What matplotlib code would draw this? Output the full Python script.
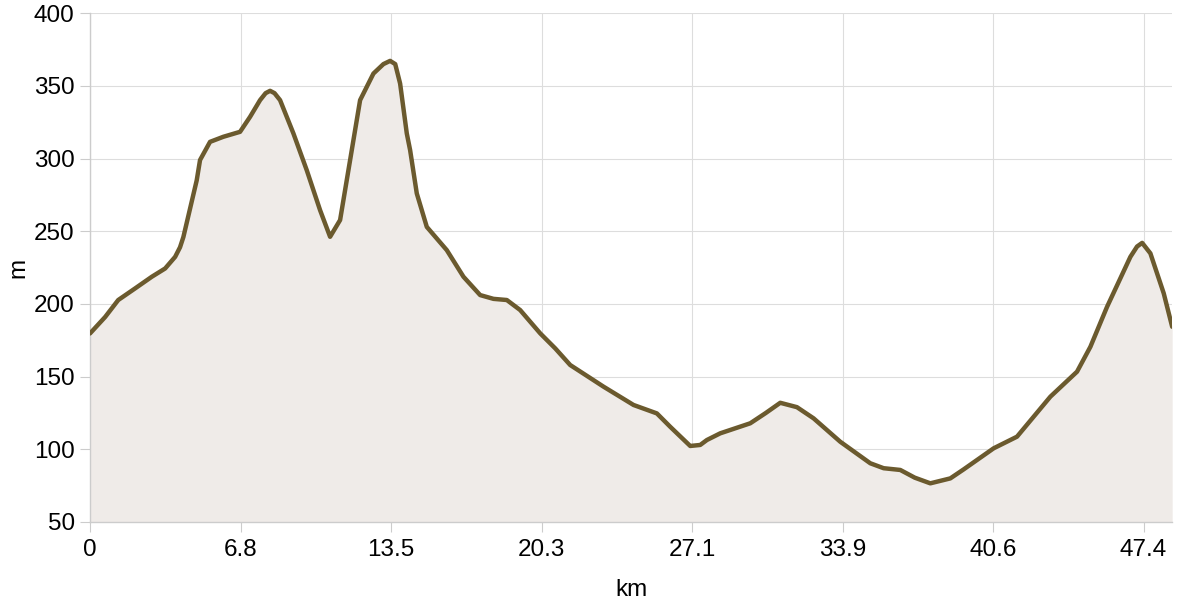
import matplotlib
matplotlib.use('Agg')
import matplotlib.pyplot as plt

# Elevation profile
km = [0, 0.68, 1.27, 2.03, 2.78, 3.38, 3.83, 4.05, 4.20, 4.50, 4.80, 4.95,
      5.40, 6.00, 6.75, 7.20, 7.65, 7.90, 8.10, 8.30, 8.55, 9.15, 9.75, 10.35,
      10.80, 11.25, 11.70, 12.15, 12.75, 13.20, 13.50, 13.73, 13.95, 14.25,
      14.40, 14.70, 15.15, 16.05, 16.80, 17.55, 18.15, 18.75, 19.35, 20.25,
      20.93, 21.60, 23.10, 24.45, 25.50, 26.10, 27.00, 27.45, 27.75, 28.35,
      29.70, 30.40, 31.05, 31.80, 32.55, 33.75, 35.10, 35.70, 36.45, 37.10,
      37.80, 38.70, 39.30, 40.65, 41.70, 43.20, 44.40, 45.00, 45.75, 46.80,
      47.10, 47.33, 47.70, 48.30, 48.68]
elev = [179.7, 191, 202.7, 210.7, 218.7, 224.4, 232.4, 239, 246, 265.5, 285, 299,
        311.5, 315, 318.4, 328.7, 340.2, 345, 346.6, 345, 340.2, 317.3, 292, 264.5,
        246.2, 257.7, 298.9, 340.2, 358.5, 365, 367.2, 365, 351.6, 317.3,
        305.8, 276, 253, 237, 218.7, 206.1, 203.5, 202.7, 195.8, 179.8,
        169.4, 158, 143.1, 130.5, 124.7, 115.5, 102.3, 103, 106.4, 111,
        117.9, 125, 132, 129, 121.3, 105.2, 90.4, 87, 85.8, 80.5,
        76.6, 80, 86.2, 100.7, 108.7, 136.2, 153.4, 170.5, 198, 232.4,
        239.5, 242, 234.8, 207.3, 184.3]

xtick_pos = [0, 6.77, 13.54, 20.31, 27.08, 33.85, 40.62, 47.39]
xtick_labels = ['0', '6.8', '13.5', '20.3', '27.1', '33.9', '40.6', '47.4']
ytick_pos = [50, 100, 150, 200, 250, 300, 350, 400]

plt.rcParams['font.family'] = ['Liberation Sans', 'DejaVu Sans']
plt.rcParams['font.size'] = 14

fig = plt.figure(figsize=(12, 6), dpi=100)
ax = fig.add_axes([0.075, 0.13, 0.902, 0.848])

ax.fill_between(km, elev, 50, color='#efebe8', linewidth=0, zorder=1)
ax.plot(km, elev, color='#6b5a2e', linewidth=3.2, solid_capstyle='round',
        solid_joinstyle='round', zorder=3)

ax.set_xlim(0, 48.69)
ax.set_ylim(50, 400)
ax.set_xticks(xtick_pos)
ax.set_xticklabels(xtick_labels)
ax.set_yticks(ytick_pos)

ax.grid(True, color='#dddddd', linewidth=0.8, zorder=0)
ax.set_axisbelow(True)
for s in ['top', 'right']:
    ax.spines[s].set_visible(False)
for s in ['left', 'bottom']:
    ax.spines[s].set_color('#cccccc')
    ax.spines[s].set_linewidth(1)
ax.tick_params(axis='both', colors='#cccccc', labelcolor='black',
               length=7, width=0.8, labelsize=17.5)
ax.tick_params(axis='x', pad=5)
ax.tick_params(axis='y', pad=4)

ax.set_xlabel('km', fontsize=17.5, labelpad=13)
ax.set_ylabel('m', fontsize=17.5, labelpad=3)

fig.savefig('out.png', dpi=100)
